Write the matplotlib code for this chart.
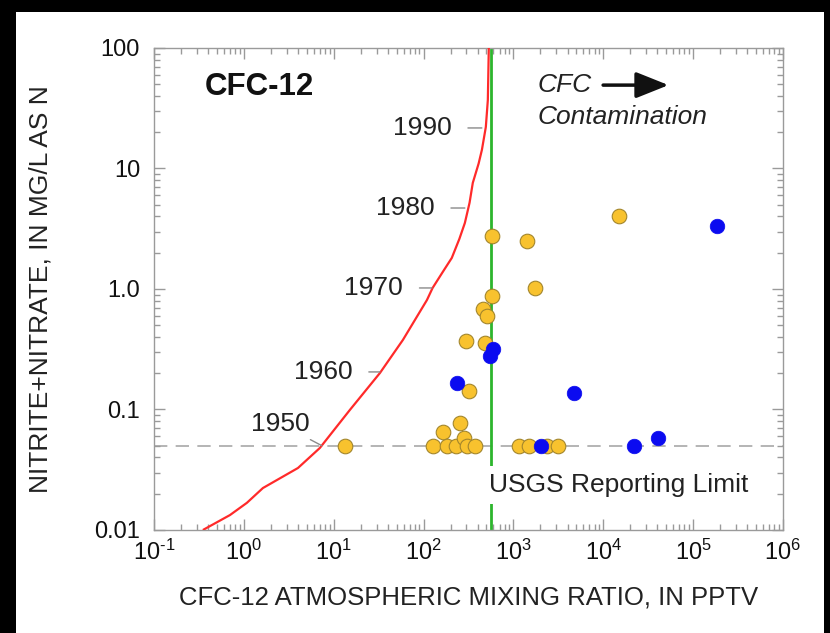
import matplotlib
matplotlib.use('Agg')
import matplotlib.pyplot as plt
from matplotlib.patches import Rectangle
from matplotlib.ticker import LogLocator, FixedLocator, NullFormatter

plt.rcParams['font.family'] = ['Liberation Sans', 'DejaVu Sans']
plt.rcParams['mathtext.fontset'] = 'custom'
plt.rcParams['mathtext.rm'] = 'Liberation Sans'
plt.rcParams['mathtext.it'] = 'Liberation Sans:italic'

# ---------------- data ----------------
# atmospheric CFC-12 history curve (pptv vs equivalent nitrate axis)
curve_cfc = [0.35, 0.70, 1.08, 1.63, 4.0, 7.0, 15.1, 32.7, 58.9, 109, 126,
             165, 206, 250, 288, 325, 353, 410, 446, 493, 519, 532]
curve_no3 = [0.01, 0.0133, 0.0168, 0.0223, 0.0327, 0.0479, 0.099, 0.201,
             0.378, 0.81, 1.02, 1.40, 1.81, 2.6, 3.53, 5.2, 7.6, 11.0, 14.3,
             22.1, 37, 100]

yellow_cfc = [575, 1410, 14800, 1730, 575, 457, 506, 296, 481, 319, 13.3,
              126, 164, 181, 228, 253, 281, 302, 372, 1148, 1480, 2350, 3100]
yellow_no3 = [2.75, 2.5, 4.03, 1.02, 0.875, 0.68, 0.597, 0.37, 0.356, 0.143,
              0.05, 0.05, 0.065, 0.05, 0.05, 0.077, 0.058, 0.05, 0.05, 0.05,
              0.05, 0.05, 0.05]

blue_cfc = [234, 590, 546, 2020, 4690, 21800, 40400, 183000]
blue_no3 = [0.166, 0.318, 0.278, 0.05, 0.137, 0.05, 0.058, 3.33]

years = ['1950', '1960', '1970', '1980', '1990']
year_cfc = [7.4, 32.7, 124, 288, 445]
year_no3 = [0.05, 0.205, 1.02, 4.7, 21.7]

reporting_limit = 0.05
modern_cfc = 560

xtick_vals = [1e-1, 1e0, 1e1, 1e2, 1e3, 1e4, 1e5, 1e6]
xtick_labels = [r'$10^{\text{-}1}$', '$10^{0}$', '$10^{1}$', '$10^{2}$',
                '$10^{3}$', '$10^{4}$', '$10^{5}$', '$10^{6}$']
ytick_vals = [0.01, 0.1, 1.0, 10, 100]
ytick_labels = ['0.01', '0.1', '1.0', '10', '100']

# ---------------- figure ----------------
fig = plt.figure(figsize=(8.30, 6.33), dpi=100, facecolor='black')
fig.patches.append(Rectangle((16 / 830, 0), (824 - 16) / 830, 1 - 12 / 633,
                             transform=fig.transFigure, facecolor='white',
                             edgecolor='none', zorder=-10))

ax = fig.add_axes([154 / 830, 1 - 530 / 633, (783 - 154) / 830, (530 - 48) / 633])
ax.set_facecolor('white')
ax.set_xscale('log')
ax.set_yscale('log')
ax.set_xlim(1e-1, 1e6)
ax.set_ylim(0.01, 100)

gray = '#9a9a9a'
for s in ax.spines.values():
    s.set_color(gray)
    s.set_linewidth(1.0)

ax.xaxis.set_major_locator(FixedLocator(xtick_vals))
ax.set_xticklabels(xtick_labels)
ax.yaxis.set_major_locator(FixedLocator(ytick_vals))
ax.set_yticklabels(ytick_labels)
ax.xaxis.set_minor_locator(LogLocator(base=10, subs=range(2, 10), numticks=20))
ax.yaxis.set_minor_locator(LogLocator(base=10, subs=range(2, 10), numticks=20))
ax.xaxis.set_minor_formatter(NullFormatter())
ax.yaxis.set_minor_formatter(NullFormatter())
ax.tick_params(which='both', direction='in', top=True, right=True, color=gray,
               width=1.0, labelsize=17, labelcolor='#111111')
ax.tick_params(which='major', length=8)
ax.tick_params(which='minor', length=4.5)
ax.tick_params(axis='x', which='major', pad=7)
ax.tick_params(axis='y', which='major', pad=10)

ax.set_xlabel('CFC-12 ATMOSPHERIC MIXING RATIO, IN PPTV', fontsize=18.5,
              color='#222222', labelpad=15)
ax.set_ylabel('NITRITE+NITRATE, IN MG/L AS N', fontsize=19, color='#222222',
              labelpad=30)

# reporting limit dashed line
ax.axhline(reporting_limit, color='#a8a8a8', lw=1.2, dashes=(8, 5), zorder=1)
# modern atmosphere green line
ax.axvline(modern_cfc, color='#2db52d', lw=2.0, zorder=2)
# atmospheric curve
ax.plot(curve_cfc, curve_no3, color='#ff2a2a', lw=1.6, zorder=3,
        solid_capstyle='butt')

ax.plot(yellow_cfc, yellow_no3, 'o', ms=10.5, mfc='#f8c22e', mec='#a3862c',
        mew=0.8, zorder=5)
ax.plot(blue_cfc, blue_no3, 'o', ms=10.5, mfc='#0b0bf0', mec='#0b0bf0',
        mew=0.5, zorder=6)

# year annotations
offsets = {'1950': (-9, 16), '1960': (-20, 0), '1970': (-21, 0),
           '1980': (-22, 0), '1990': (-22, 0)}
for yr, xc, yc in zip(years, year_cfc, year_no3):
    dx, dy = offsets[yr]
    ax.annotate(yr, xy=(xc, yc), xytext=(dx, dy), textcoords='offset points',
                ha='right', va='center', fontsize=19, color='#222222',
                arrowprops=dict(arrowstyle='-', color='#8a8a8a', lw=1.0,
                                shrinkA=10 if yr != '1950' else 2, shrinkB=0),
                zorder=4)

ax.text(0.081, 0.919, 'CFC-12', transform=ax.transAxes, fontsize=22.5,
        fontweight='bold', ha='left', va='center', color='#111111')
ax.text(0.610, 0.923, 'CFC', transform=ax.transAxes, fontsize=19,
        style='italic', ha='left', va='center', color='#222222')
ax.text(0.610, 0.857, 'Contamination', transform=ax.transAxes, fontsize=19,
        style='italic', ha='left', va='center', color='#222222')
ax.annotate('', xy=(0.818, 0.923), xytext=(0.714, 0.923),
            xycoords='axes fraction', textcoords='axes fraction',
            arrowprops=dict(arrowstyle='-|>,head_length=1.0,head_width=0.4',
                            mutation_scale=20, color='#111111', lw=2.5,
                            shrinkA=0, shrinkB=0))
ax.text(0.533, 0.0934, 'USGS Reporting Limit', transform=ax.transAxes,
        fontsize=19, ha='left', va='center', color='#222222', zorder=7,
        bbox=dict(facecolor='white', edgecolor='none', pad=5))

fig.savefig('out.png', dpi=100, facecolor=fig.get_facecolor())
